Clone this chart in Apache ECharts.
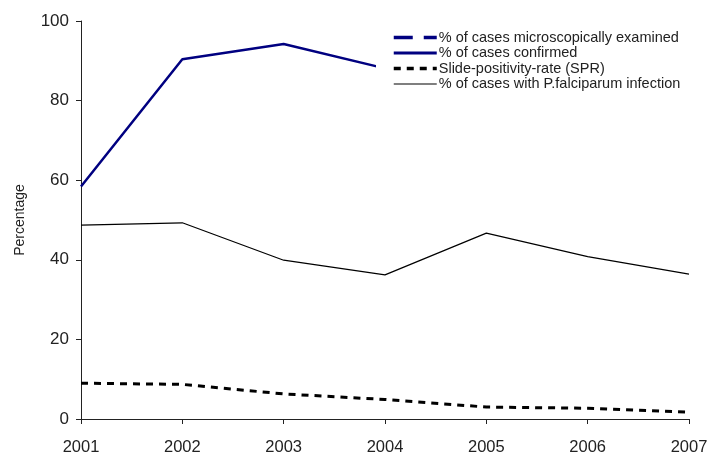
<!DOCTYPE html>
<html>
<head>
<meta charset="utf-8">
<script src="https://cdn.jsdelivr.net/npm/echarts@6/dist/echarts.min.js"></script>
<style>html,body{margin:0;padding:0;background:#fff}#c{width:711px;height:453px}</style>
</head>
<body>
<div id="c"></div>
<script>
var years = ['2001','2002','2003','2004','2005','2006','2007'];
var microscopic = [null, null, null, null, null, null, null];
var confirmed = [58.4, 90.4, 94.2, 88.1, null, null, null];
var spr = [9.0, 8.7, 6.3, 4.9, 3.0, 2.7, 1.7];
var falciparum = [48.7, 49.3, 39.9, 36.2, 46.7, 40.8, 36.4];
var yTicks = [0, 20, 40, 60, 80, 100];
var names = ['% of cases microscopically examined', '% of cases confirmed', 'Slide-positivity-rate (SPR)', '% of cases with P.falciparum infection'];

var FONT = '"Liberation Sans", Arial, sans-serif';
var chart = echarts.init(document.getElementById('c'));
chart.setOption({
  animation: false,
  backgroundColor: '#fff',
  textStyle: { fontFamily: FONT },
  grid: { left: 81, right: 22, top: 21, bottom: 34, containLabel: false, outerBoundsMode: 'none' },
  legend: {
    orient: 'vertical',
    left: 376, top: 22,
    padding: [8, 20, 8, 16],
    backgroundColor: '#fff',
    itemWidth: 43, itemHeight: 14, itemGap: 0.5,
    itemStyle: { opacity: 0 },
    textStyle: { fontFamily: FONT, fontSize: 14.5, color: '#222', padding: [0,0,0,-3] },
    data: [
      { name: names[0], lineStyle: { width: 3.5 } },
      { name: names[1], lineStyle: { width: 3 } },
      { name: names[2], lineStyle: { width: 3.5 } },
      { name: names[3], lineStyle: { width: 1.2 } }
    ]
  },
  xAxis: {
    type: 'category', data: years, boundaryGap: false,
    axisLine: { lineStyle: { color: '#222', width: 1 } },
    axisTick: { alignWithLabel: true, length: 5, lineStyle: { color: '#222' } },
    axisLabel: { fontFamily: FONT, fontSize: 16.5, color: '#222', margin: 20, showMinLabel: true, showMaxLabel: true }
  },
  yAxis: {
    type: 'value', min: yTicks[0], max: yTicks[yTicks.length-1], interval: 20,
    name: 'Percentage', nameLocation: 'middle', nameGap: 54, nameRotate: 90,
    nameTextStyle: { fontFamily: FONT, fontSize: 14, color: '#222' },
    axisLine: { show: true, lineStyle: { color: '#222', width: 1 } },
    axisTick: { show: true, length: 5, lineStyle: { color: '#222' } },
    splitLine: { show: false },
    axisLabel: { fontFamily: FONT, fontSize: 17, color: '#222', margin: 12 }
  },
  series: [
    { name: names[0], type: 'line', data: microscopic, symbol: 'none', connectNulls: false,
      itemStyle: { color: '#000080' }, lineStyle: { color: '#000080', width: 3, type: [19, 11] } },
    { name: names[1], type: 'line', data: confirmed, symbol: 'none', connectNulls: false,
      itemStyle: { color: '#000080' }, lineStyle: { color: '#000080', width: 2.5 } },
    { name: names[2], type: 'line', data: spr, symbol: 'none',
      itemStyle: { color: '#000' }, lineStyle: { color: '#000', width: 3, type: [7, 6] } },
    { name: names[3], type: 'line', data: falciparum, symbol: 'none',
      itemStyle: { color: '#000' }, lineStyle: { color: '#000', width: 1.2 } }
  ]
});
</script>
</body>
</html>
